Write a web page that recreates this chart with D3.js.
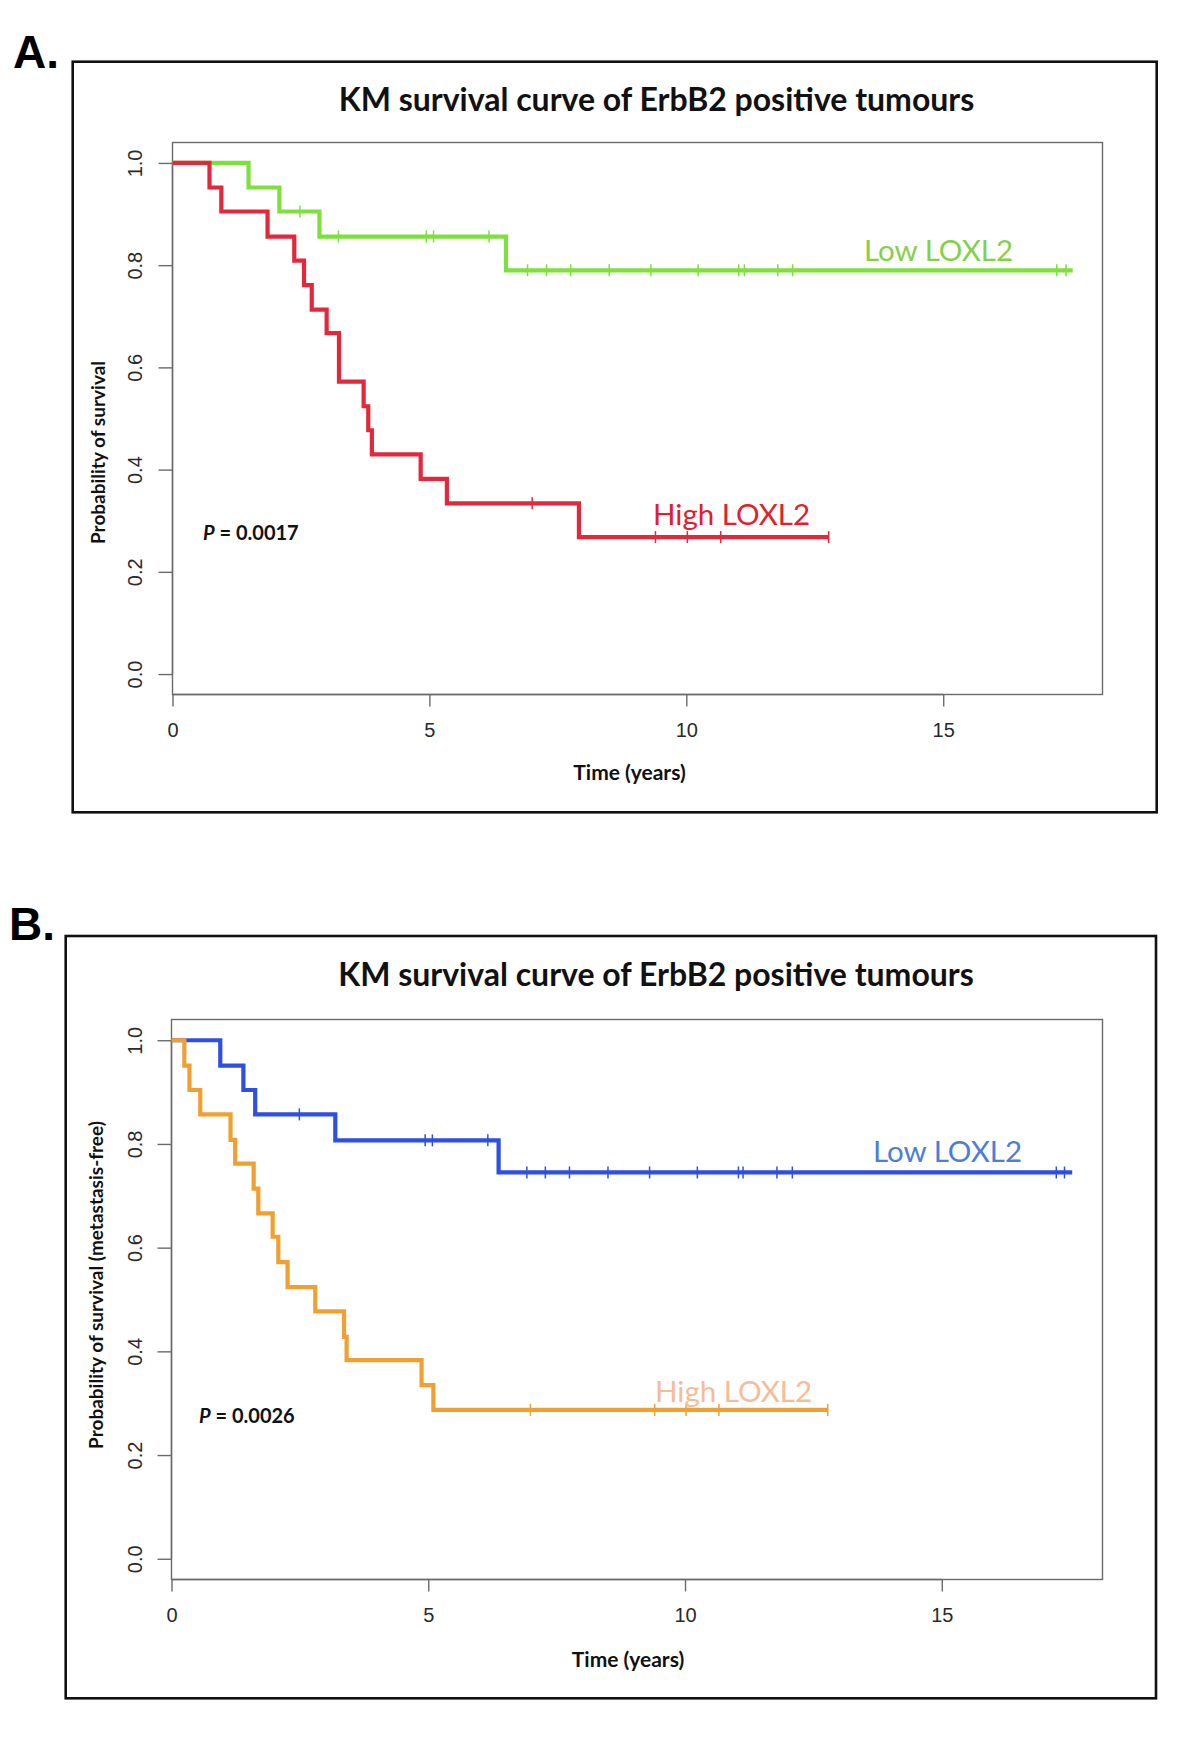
<!DOCTYPE html>
<html>
<head>
<meta charset="utf-8">
<script src="https://cdn.jsdelivr.net/npm/d3@7"></script>
<style>
  html, body { margin: 0; padding: 0; background: #fff; }
  svg { display: block; }
</style>
</head>
<body>
<svg id="chart" width="1200" height="1738"></svg>
<script>
// ---------- shared axis data ----------
const timeTicks = [0, 5, 10, 15];
const timeTickLabels = ["0", "5", "10", "15"];
const survTicks = [0, 0.2, 0.4, 0.6, 0.8, 1.0];
const survTickLabels = ["0.0", "0.2", "0.4", "0.6", "0.8", "1.0"];

// ---------- Panel A : overall survival ----------
const aLowTimes  = [0, 1.48, 2.08, 2.86, 6.49];
const aLowSurv   = [1, 0.952, 0.905, 0.856, 0.790];
const aLowCensor = [2.48, 3.23, 4.94, 5.08, 6.16, 6.91, 7.28, 7.75, 8.50, 9.31, 10.23, 11.02, 11.13, 11.78, 12.07, 17.21, 17.39];
const aLowEnd    = 17.52;

const aHighTimes  = [0, 0.72, 0.95, 1.85, 2.37, 2.56, 2.71, 3.00, 3.24, 3.72, 3.81, 3.88, 4.83, 5.34, 7.91];
const aHighSurv   = [1, 0.952, 0.905, 0.856, 0.809, 0.761, 0.713, 0.667, 0.572, 0.524, 0.477, 0.430, 0.382, 0.334, 0.268];
const aHighCensor = [7.00, 9.40, 10.02, 10.67, 12.77];
const aHighEnd    = 12.77;

// ---------- Panel B : metastasis-free survival ----------
const bLowTimes  = [0, 0.95, 1.40, 1.63, 3.19, 6.37];
const bLowSurv   = [1, 0.951, 0.904, 0.857, 0.807, 0.745];
const bLowCensor = [2.49, 4.94, 5.08, 6.16, 6.92, 7.28, 7.75, 8.50, 9.31, 10.24, 11.04, 11.13, 11.79, 12.09, 17.23, 17.39];
const bLowEnd    = 17.54;

const bHighTimes  = [0, 0.25, 0.35, 0.56, 1.15, 1.24, 1.60, 1.69, 1.97, 2.08, 2.26, 2.80, 3.36, 3.41, 4.87, 5.10];
const bHighSurv   = [1, 0.951, 0.904, 0.857, 0.808, 0.762, 0.714, 0.666, 0.621, 0.572, 0.524, 0.477, 0.428, 0.383, 0.335, 0.287];
const bHighCensor = [6.99, 9.41, 10.02, 10.66, 12.78];
const bHighEnd    = 12.78;

const titleText = "KM survival curve of ErbB2 positive tumours";
const xLabelText = "Time (years)";
const groupNames = ["Low LOXL2", "High LOXL2"];

// ---------- drawing ----------
const svg = d3.select("#chart");
const TICK_FONT = "'Liberation Sans', Arial, sans-serif";
const TEXT_FONT = "Lato, 'Open Sans', sans-serif";
const AXIS_COL = "#6a6a6a";

function stepFn(times, surv, end) {
  const pts = times.map((t, i) => ({t, s: surv[i]}));
  pts.push({t: end, s: surv[surv.length - 1]});
  return pts;
}
function survAt(times, surv, t) {
  let s = surv[0];
  for (let i = 0; i < times.length; i++) if (times[i] <= t) s = surv[i];
  return s;
}

function drawPanel(cfg) {
  const g = svg.append("g");
  // outer frame
  g.append("rect")
    .attr("x", cfg.frame[0]).attr("y", cfg.frame[1])
    .attr("width", cfg.frame[2]).attr("height", cfg.frame[3])
    .attr("fill", "none").attr("stroke", "#111").attr("stroke-width", 2.6);
  // panel letter
  g.append("text").attr("x", cfg.letterPos[0]).attr("y", cfg.letterPos[1])
    .attr("font-family", "'Liberation Sans', Arial, sans-serif")
    .attr("font-weight", "bold").attr("font-size", 46).attr("fill", "#000")
    .text(cfg.letter);
  // title
  g.append("text").attr("x", cfg.titlePos[0]).attr("y", cfg.titlePos[1])
    .attr("text-anchor", "middle").attr("font-family", TEXT_FONT)
    .attr("font-weight", "bold").attr("font-size", 32).attr("fill", "#111")
    .text(titleText);

  const p = cfg.plot;
  const x = d3.scaleLinear().domain([0, cfg.xMax]).range([p.left, p.right]);
  const y = d3.scaleLinear().domain([-0.04, 1.04]).range([p.bottom, p.top]);

  // plot box
  g.append("rect").attr("x", p.left).attr("y", p.top)
    .attr("width", p.right - p.left).attr("height", p.bottom - p.top)
    .attr("fill", "none").attr("stroke", AXIS_COL).attr("stroke-width", 1.4);

  // x axis
  const xAxis = d3.axisBottom(x).tickValues(timeTicks)
    .tickFormat((d, i) => timeTickLabels[i]).tickSize(12).tickPadding(16);
  const gx = g.append("g").attr("transform", `translate(0,${p.bottom})`).call(xAxis);
  gx.select(".domain").attr("stroke", AXIS_COL).attr("stroke-width", 1.4)
    .attr("d", `M${x(timeTicks[0])},0H${x(timeTicks[timeTicks.length - 1])}`);
  gx.selectAll(".tick line").attr("stroke", AXIS_COL).attr("stroke-width", 1.4);
  gx.selectAll(".tick text").attr("font-family", TICK_FONT).attr("font-size", 20)
    .attr("fill", "#2a2a2a");

  // y axis
  const yAxis = d3.axisLeft(y).tickValues(survTicks)
    .tickFormat((d, i) => survTickLabels[i]).tickSize(14);
  const gy = g.append("g").attr("transform", `translate(${p.left},0)`).call(yAxis);
  gy.select(".domain").attr("stroke", AXIS_COL).attr("stroke-width", 1.4)
    .attr("d", `M0,${y(survTicks[0])}V${y(survTicks[survTicks.length - 1])}`);
  gy.selectAll(".tick line").attr("stroke", AXIS_COL).attr("stroke-width", 1.4);
  gy.selectAll(".tick text")
    .attr("x", null).attr("dy", null)
    .attr("text-anchor", "middle")
    .attr("transform", `translate(${cfg.yTickBaseX - p.left},0) rotate(-90)`)
    .attr("font-family", TICK_FONT).attr("font-size", 20).attr("fill", "#2a2a2a");

  // axis titles
  g.append("text").attr("x", cfg.xLabelPos[0]).attr("y", cfg.xLabelPos[1])
    .attr("text-anchor", "middle").attr("font-family", TEXT_FONT)
    .attr("font-weight", "bold").attr("font-size", 21).attr("fill", "#111")
    .text(xLabelText);
  g.append("text")
    .attr("transform", `translate(${cfg.yLabelPos[0]},${cfg.yLabelPos[1]}) rotate(-90)`)
    .attr("text-anchor", "middle").attr("font-family", TEXT_FONT)
    .attr("font-weight", "bold").attr("font-size", 19).attr("fill", "#111")
    .text(cfg.yLabel);

  // curves
  const line = d3.line().x(d => x(d.t)).y(d => y(d.s)).curve(d3.curveStepAfter);
  cfg.series.forEach(s => {
    g.append("path").datum(stepFn(s.times, s.surv, s.end))
      .attr("d", line).attr("fill", "none")
      .attr("stroke", s.color).attr("stroke-width", 4.2)
      .attr("stroke-linejoin", "miter").attr("stroke-linecap", "butt");
    g.selectAll(null).data(s.censor).enter().append("line")
      .attr("x1", d => x(d)).attr("x2", d => x(d))
      .attr("y1", d => y(survAt(s.times, s.surv, d)) - 6)
      .attr("y2", d => y(survAt(s.times, s.surv, d)) + 6)
      .attr("stroke", s.color).attr("stroke-width", 1.5);
    g.append("text").attr("x", s.labelPos[0]).attr("y", s.labelPos[1])
      .attr("font-family", TEXT_FONT).attr("font-size", 29.5)
      .attr("fill", s.labelColor).text(s.name);
  });

  // p value
  const pt = g.append("text").attr("x", cfg.pPos[0]).attr("y", cfg.pPos[1])
    .attr("font-family", TEXT_FONT).attr("font-weight", "bold")
    .attr("font-size", 20).attr("fill", "#111");
  pt.append("tspan").attr("font-style", "italic").text("P");
  pt.append("tspan").text(" = " + cfg.pValue);
}

drawPanel({
  letter: "A.", letterPos: [13, 68],
  frame: [72.7, 61.7, 1084, 750.6],
  titlePos: [656.5, 111],
  plot: {left: 172.5, right: 1102.5, top: 142.5, bottom: 694.5},
  xMax: 18.1,
  yTickBaseX: 142,
  xLabelPos: [629.5, 780],
  yLabelPos: [105, 452.5],
  yLabel: "Probability of survival",
  pPos: [203, 540], pValue: "0.0017",
  series: [
    {name: groupNames[0], times: aLowTimes, surv: aLowSurv, censor: aLowCensor, end: aLowEnd,
     color: "#7ee03c", labelColor: "#84d048", labelPos: [864, 261]},
    {name: groupNames[1], times: aHighTimes, surv: aHighSurv, censor: aHighCensor, end: aHighEnd,
     color: "#e4283c", labelColor: "#e0202e", labelPos: [653, 525]}
  ]
});

drawPanel({
  letter: "B.", letterPos: [9, 940],
  frame: [65.7, 936, 1090.3, 762.3],
  titlePos: [656, 986],
  plot: {left: 171.5, right: 1102.5, top: 1019.5, bottom: 1579.5},
  xMax: 18.13,
  yTickBaseX: 142,
  xLabelPos: [628, 1667],
  yLabelPos: [103, 1285],
  yLabel: "Probability of survival (metastasis-free)",
  pPos: [199, 1423], pValue: "0.0026",
  series: [
    {name: groupNames[0], times: bLowTimes, surv: bLowSurv, censor: bLowCensor, end: bLowEnd,
     color: "#2f4fe0", labelColor: "#4a7ed8", labelPos: [873, 1162]},
    {name: groupNames[1], times: bHighTimes, surv: bHighSurv, censor: bHighCensor, end: bHighEnd,
     color: "#f0a030", labelColor: "#f6bc98", labelPos: [655, 1402]}
  ]
});
</script>
</body>
</html>
